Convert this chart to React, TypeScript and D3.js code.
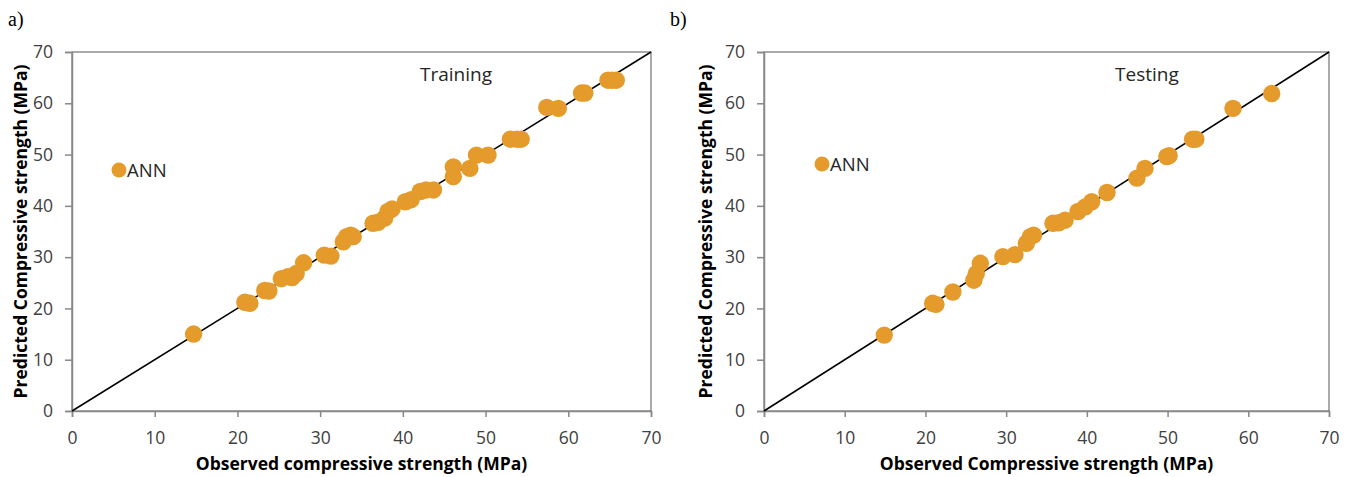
import React, { useEffect, useRef } from "react";
import * as d3 from "d3";

// observed vs predicted (MPa)
const trainObserved = [14.7, 20.9, 21.5, 23.3, 23.8, 25.3, 26.1, 26.6, 27.1, 28.0, 30.5, 31.3, 32.8, 33.2, 33.7, 34.0, 36.4, 37.0, 37.8, 38.2, 38.7, 40.3, 41.0, 42.1, 42.8, 43.7, 46.1, 46.1, 48.1, 48.9, 50.3, 53.0, 53.8, 54.3, 57.4, 58.8, 61.6, 62.0, 64.8, 65.3, 65.8];
const trainPredicted = [15.0, 21.2, 21.0, 23.5, 23.4, 25.8, 26.2, 26.0, 26.8, 28.9, 30.4, 30.2, 33.0, 34.0, 34.3, 34.0, 36.6, 36.8, 37.6, 38.9, 39.4, 40.8, 41.2, 42.8, 43.1, 43.1, 45.7, 47.6, 47.3, 49.9, 49.9, 53.0, 53.0, 53.0, 59.2, 59.0, 62.0, 62.0, 64.5, 64.5, 64.5];

const testObserved = [14.9, 20.9, 21.3, 23.4, 26.0, 26.3, 26.8, 29.6, 31.1, 32.5, 33.0, 33.4, 35.8, 36.5, 37.3, 38.9, 39.8, 40.6, 42.5, 46.2, 47.2, 49.9, 50.2, 53.1, 53.5, 58.1, 62.9];
const testPredicted = [14.8, 21.0, 20.8, 23.2, 25.5, 26.8, 28.8, 30.1, 30.5, 32.7, 34.0, 34.3, 36.6, 36.7, 37.2, 38.9, 39.8, 40.8, 42.6, 45.4, 47.3, 49.6, 49.8, 53.0, 53.0, 59.0, 61.9];

const ticks = [0, 10, 20, 30, 40, 50, 60, 70];

const panels = [
  {
    tag: "a)",
    tagX: 8,
    x0: 72,
    x1: 651,
    title: "Training",
    titleX: 420,
    legendX: 119,
    legendY: 170,
    xLabel: "Observed compressive strength (MPa)",
    yLabelX: 27,
    obs: trainObserved,
    pred: trainPredicted,
  },
  {
    tag: "b)",
    tagX: 670,
    x0: 764,
    x1: 1329,
    title: "Testing",
    titleX: 1115,
    legendX: 822,
    legendY: 164,
    xLabel: "Observed Compressive strength (MPa)",
    yLabelX: 712,
    obs: testObserved,
    pred: testPredicted,
  },
];

const dotColor = "#E59B2B";
const font = "'Open Sans', Lato, sans-serif";

export default function App() {
  const svgRef = useRef<SVGSVGElement>(null);

  useEffect(() => {
    const svg = d3.select(svgRef.current);
    svg.selectAll("*").remove();

    const top = 52;
    const bottom = 411;

    panels.forEach((p) => {
      const g = svg.append("g");
      const x = d3.scaleLinear().domain([0, 70]).range([p.x0, p.x1]);
      const y = d3.scaleLinear().domain([0, 70]).range([bottom, top]);

      g.append("text")
        .attr("x", p.tagX)
        .attr("y", 26)
        .attr("font-family", "'Liberation Serif', 'DejaVu Serif', serif")
        .attr("font-size", 20)
        .text(p.tag);

      // plot area frame
      g.append("rect")
        .attr("x", p.x0)
        .attr("y", top)
        .attr("width", p.x1 - p.x0)
        .attr("height", bottom - top)
        .attr("fill", "none")
        .attr("stroke", "#555")
        .attr("stroke-width", 1);

      g.append("g")
        .attr("transform", `translate(0,${bottom})`)
        .call(d3.axisBottom(x).tickValues(ticks).tickSize(6).tickPadding(15))
        .call((a) => a.selectAll("line, path").attr("stroke", "#888").attr("stroke-width", 1.5))
        .call((a) =>
          a.selectAll("text").attr("font-family", font).attr("font-size", 17.5).attr("fill", "#404040")
        );

      g.append("g")
        .attr("transform", `translate(${p.x0},0)`)
        .call(d3.axisLeft(y).tickValues(ticks).tickSize(7).tickPadding(12))
        .call((a) => a.selectAll("line, path").attr("stroke", "#888").attr("stroke-width", 1.5))
        .call((a) =>
          a.selectAll("text").attr("font-family", font).attr("font-size", 17.5).attr("fill", "#404040")
        );

      g.append("line")
        .attr("x1", x(0))
        .attr("y1", y(0))
        .attr("x2", x(70))
        .attr("y2", y(70))
        .attr("stroke", "#000")
        .attr("stroke-width", 1.6);

      g.selectAll("circle.pt")
        .data(p.obs.map((o, i) => [o, p.pred[i]]))
        .join("circle")
        .attr("class", "pt")
        .attr("cx", (d) => x(d[0]))
        .attr("cy", (d) => y(d[1]))
        .attr("r", 8.7)
        .attr("fill", dotColor);

      g.append("text")
        .attr("x", p.titleX)
        .attr("y", 81)
        .attr("font-family", font)
        .attr("font-size", 19)
        .attr("fill", "#262626")
        .text(p.title);

      g.append("circle")
        .attr("cx", p.legendX)
        .attr("cy", p.legendY)
        .attr("r", 7.5)
        .attr("fill", dotColor);
      g.append("text")
        .attr("x", p.legendX + 8)
        .attr("y", p.legendY + 6.5)
        .attr("font-family", font)
        .attr("font-size", 18.5)
        .attr("fill", "#262626")
        .text("ANN");

      g.append("text")
        .attr("x", (p.x0 + p.x1) / 2)
        .attr("y", 470)
        .attr("text-anchor", "middle")
        .attr("font-family", font)
        .attr("font-weight", "bold")
        .attr("font-size", 17.5)
        .attr("fill", "#000")
        .text(p.xLabel);

      g.append("text")
        .attr("transform", `translate(${p.yLabelX},${(top + bottom) / 2}) rotate(-90)`)
        .attr("text-anchor", "middle")
        .attr("font-family", font)
        .attr("font-weight", "bold")
        .attr("font-size", 17.5)
        .attr("fill", "#000")
        .text("Predicted Compressive strength (MPa)");
    });
  }, []);

  return (
    <div style={{ position: "absolute", left: 0, top: 0 }}>
      <svg ref={svgRef} width={1355} height={477} style={{ display: "block", background: "#fff" }} />
    </div>
  );
}
